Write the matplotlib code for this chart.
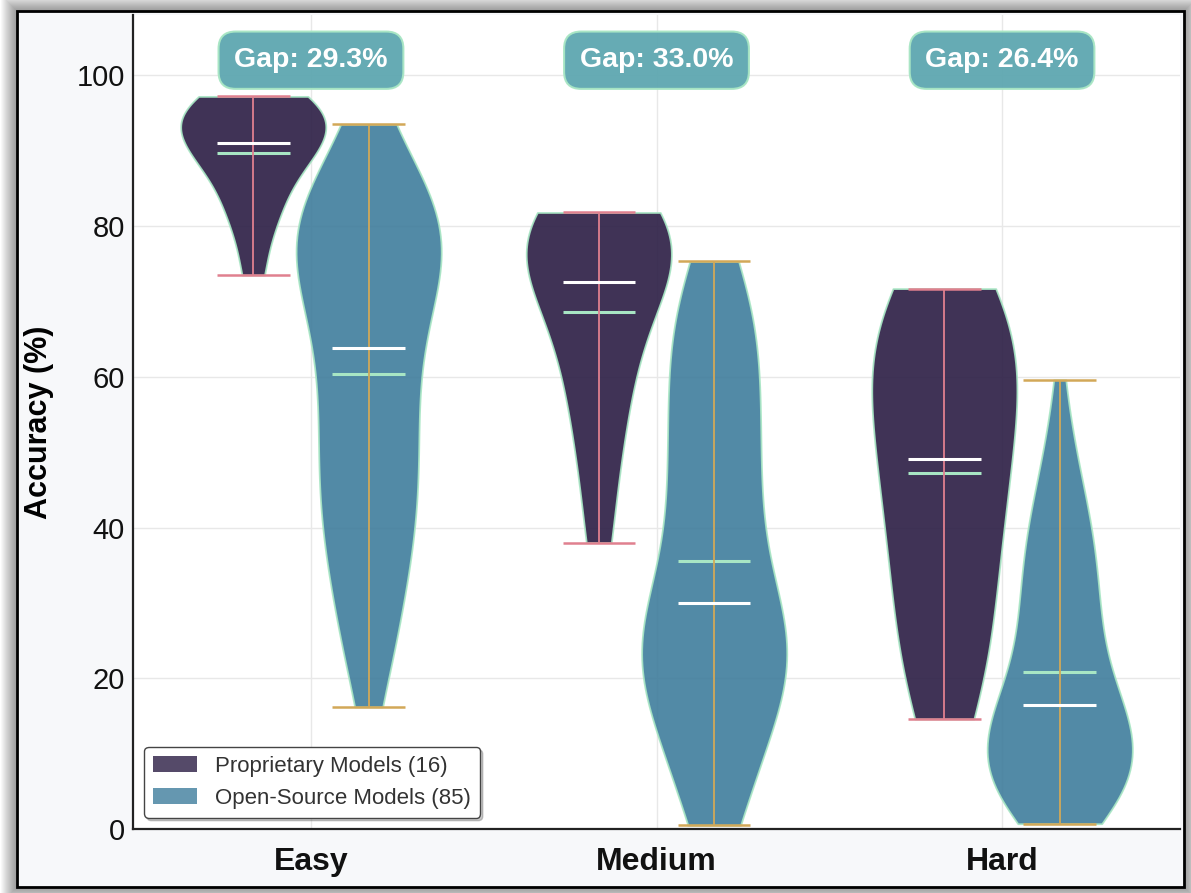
import numpy as np
import matplotlib
matplotlib.use("Agg")
import matplotlib.pyplot as plt
from matplotlib.patches import Rectangle, Patch

# ---- data: per-model accuracy (%) by difficulty level ----
levels = ["Easy", "Medium", "Hard"]

easy_proprietary = [73.5, 79.5, 82.2, 84.6, 87.0, 88.9, 90.2, 90.6, 91.4, 92.8,
                    94.0, 94.8, 95.5, 96.2, 96.8, 97.2]
medium_proprietary = [38.0, 47.5, 53.5, 58.5, 62.5, 66.0, 69.8, 72.0, 73.2, 76.5,
                      77.8, 78.9, 79.8, 80.6, 81.2, 81.8]
hard_proprietary = [14.6, 20.0, 25.0, 30.0, 35.0, 39.7, 44.0, 48.2, 50.0, 55.0,
                    59.0, 62.0, 64.5, 67.0, 69.5, 71.7]

easy_open = [16.2, 20.4, 20.8, 22.6, 24.3, 25.8, 27.5, 29.1, 30.6, 31.9,
             33.2, 34.4, 35.4, 36.4, 37.4, 38.3, 39.2, 40.1, 41.1, 42.1,
             43.1, 44.1, 45.0, 45.8, 46.6, 47.4, 48.2, 49.0, 50.1, 51.1,
             52.1, 53.1, 54.1, 55.0, 55.8, 56.9, 57.7, 58.6, 59.4, 61.0,
             62.0, 63.3, 63.8, 64.2, 64.7, 66.5, 67.7, 68.4, 69.6, 70.4,
             71.0, 71.6, 72.2, 72.8, 73.4, 74.0, 74.6, 75.1, 75.6, 76.1,
             76.6, 77.1, 77.6, 78.1, 78.6, 79.1, 79.6, 80.1, 80.5, 80.9,
             81.3, 81.7, 82.1, 82.5, 82.9, 83.4, 83.9, 84.4, 84.9, 86.4,
             88.0, 89.6, 91.0, 92.3, 93.5]
medium_open = [0.5, 1.0, 1.6, 2.4, 3.4, 4.6, 6.0, 7.6, 9.3, 10.5,
               11.5, 12.4, 13.3, 14.1, 14.9, 15.7, 16.4, 17.1, 17.8, 18.5,
               19.1, 19.7, 20.2, 20.7, 21.2, 21.7, 22.2, 22.7, 23.2, 23.7,
               24.2, 24.7, 25.2, 25.7, 26.2, 26.7, 27.1, 27.6, 28.1, 28.6,
               29.1, 29.6, 30.0, 32.3, 33.4, 34.4, 35.5, 36.5, 37.6, 38.6,
               39.7, 40.7, 41.8, 42.8, 43.9, 44.9, 46.0, 47.0, 48.0, 49.1,
               50.1, 51.2, 52.2, 53.3, 54.3, 55.4, 56.4, 57.5, 58.5, 59.6,
               60.6, 61.7, 62.7, 63.8, 64.8, 65.9, 66.9, 68.0, 69.0, 70.1,
               71.1, 72.2, 73.2, 74.2, 75.3]
hard_open = [0.7, 1.1, 1.5, 1.8, 2.2, 2.6, 3.0, 3.4, 3.7, 4.1,
             4.5, 4.9, 5.3, 5.6, 6.0, 6.4, 6.8, 7.2, 7.5, 7.9,
             8.3, 8.7, 9.1, 9.4, 9.8, 10.2, 10.6, 11.0, 11.3, 11.7,
             12.1, 12.5, 12.9, 13.2, 13.6, 14.0, 14.4, 14.8, 15.1, 15.5,
             15.9, 16.3, 16.5, 17.0, 17.7, 18.4, 19.1, 19.8, 20.5, 21.2,
             21.9, 22.6, 23.3, 24.0, 24.7, 25.6, 26.4, 27.1, 27.8, 28.5,
             29.2, 29.9, 30.9, 31.7, 32.5, 33.3, 34.1, 34.9, 35.7, 36.5,
             37.3, 38.1, 38.9, 39.7, 41.0, 42.0, 43.0, 44.0, 45.0, 46.5,
             48.5, 50.0, 52.0, 55.0, 59.6]

proprietary = [easy_proprietary, medium_proprietary, hard_proprietary]
open_source = [easy_open, medium_open, hard_open]

# ---- styling ----
plt.rcParams["font.family"] = ["Liberation Sans", "DejaVu Sans"]

PROP_COLOR = "#2b1d44"
OPEN_COLOR = "#3f7d9c"
EDGE_MINT = "#a8e6c4"
PROP_BAR = "#e0808f"
OPEN_BAR = "#d2a858"
GAP_BOX = "#5ea7b0"

W, H = 1191, 893
fig = plt.figure(figsize=(W / 100, H / 100), dpi=100, facecolor="white")


def frac_rect(x0, y0, x1, y1, **kw):
    """Rectangle given in pixel coordinates (origin top-left)."""
    return Rectangle((x0 / W, 1 - y1 / H), (x1 - x0) / W, (y1 - y0) / H,
                     transform=fig.transFigure, **kw)


# soft drop shadow around the framed panel
for k in range(1, 17):
    fig.add_artist(frac_rect(17 - k, 11 - k, 1184 + k, 887 + k,
                             facecolor="black", edgecolor="none",
                             alpha=0.028, zorder=-5))
fig.add_artist(frac_rect(17, 11, 1184, 887, facecolor="#f7f8fa",
                         edgecolor="black", linewidth=2.0, zorder=-4))

ax = fig.add_axes([133 / W, 1 - 829 / H, (1180 - 133) / W, (829 - 15) / H])
ax.set_facecolor("white")

x = np.arange(len(levels))
offset = 0.167
vwidth = 0.42


def style_violins(vp, color, bar_color):
    for body in vp["bodies"]:
        body.set_facecolor(color)
        body.set_edgecolor(EDGE_MINT)
        body.set_linewidth(1.3)
        body.set_alpha(0.9)
    vp["cmeans"].set_color(EDGE_MINT)
    vp["cmeans"].set_linewidth(2.2)
    vp["cmedians"].set_color("white")
    vp["cmedians"].set_linewidth(2.2)
    vp["cbars"].set_color(bar_color)
    vp["cbars"].set_linewidth(1.3)
    for key in ("cmins", "cmaxes"):
        vp[key].set_color(bar_color)
        vp[key].set_linewidth(1.8)


vp_p = ax.violinplot(proprietary, positions=x - offset, widths=vwidth,
                     showmeans=True, showmedians=True, showextrema=True)
style_violins(vp_p, PROP_COLOR, PROP_BAR)
vp_o = ax.violinplot(open_source, positions=x + offset, widths=vwidth,
                     showmeans=True, showmedians=True, showextrema=True)
style_violins(vp_o, OPEN_COLOR, OPEN_BAR)

# mean gap annotations
for i in range(len(levels)):
    gap = np.mean(proprietary[i]) - np.mean(open_source[i])
    ax.text(x[i], 102, f"Gap: {gap:.1f}%", ha="center", va="center",
            fontsize=20.5, fontweight="bold", color="white", zorder=6,
            bbox=dict(boxstyle="round,pad=0.55,rounding_size=0.6",
                      facecolor=GAP_BOX, edgecolor=EDGE_MINT,
                      linewidth=1.5, alpha=0.95))

ax.set_xlim(-0.515, 2.515)
ax.set_ylim(0, 108)
ax.set_xticks(x)
ax.set_xticklabels(levels, fontsize=23, fontweight="bold")
ax.set_yticks([0, 20, 40, 60, 80, 100])
ax.tick_params(axis="y", labelsize=21, length=0, pad=6, labelcolor="#111111")
ax.tick_params(axis="x", length=0, pad=13, labelcolor="#111111")
ax.set_ylabel("Accuracy (%)", fontsize=22, fontweight="bold", labelpad=16)

ax.grid(True, color="#e8e8e8", linewidth=1.0)
ax.set_axisbelow(True)
for side in ("top", "right"):
    ax.spines[side].set_visible(False)
for side in ("left", "bottom"):
    ax.spines[side].set_color("#222222")
    ax.spines[side].set_linewidth(1.6)

handles = [
    Patch(facecolor=PROP_COLOR, alpha=0.8, edgecolor="none",
          label=f"Proprietary Models ({len(easy_proprietary)})"),
    Patch(facecolor=OPEN_COLOR, alpha=0.8, edgecolor="none",
          label=f"Open-Source Models ({len(easy_open)})"),
]
leg = ax.legend(handles=handles, loc="lower left", fontsize=16,
                frameon=True, fancybox=True, framealpha=1.0,
                edgecolor="#444444",
                shadow={"color": "0.4", "alpha": 0.35})
for t in leg.get_texts():
    t.set_color("#333333")

fig.savefig("out.png", dpi=100, facecolor=fig.get_facecolor())
